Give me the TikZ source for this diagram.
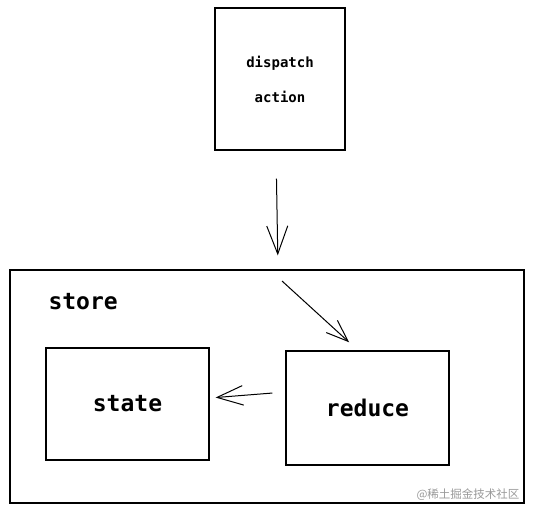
\documentclass[tikz,border=0pt]{standalone}
\usepackage{fontspec}
\setmonofont{DejaVu Sans Mono}
\newfontfamily\cjkfont{Noto Sans CJK SC}
\usetikzlibrary{arrows.meta,positioning}
\tikzset{
  sketchbox/.style={draw, line width=1.3pt, inner sep=0pt},
  boxlabel/.style={font=\ttfamily\bfseries\fontsize{23}{26}\selectfont},
  sketcharrow/.style={line width=1pt, -{Straight Barb[length=#1,width=0.75*#1,line width=1pt]}},
  sketcharrow/.default=24pt
}
\begin{document}
\begin{tikzpicture}[x=1pt, y=-1pt]
\useasboundingbox (0,0) rectangle (534,515);
% boxes
\node[sketchbox, minimum width=130pt, minimum height=142pt] (dispatch) at (280,79)
  {\parbox{120pt}{\centering\ttfamily\bfseries\fontsize{14}{35}\selectfont dispatch\\action}};
\node[sketchbox, minimum width=514pt, minimum height=233pt] (store) at (267,386.5) {};
\node[boxlabel, anchor=west] (storelabel) at (45,302) {store};
\node[sketchbox, minimum width=163pt, minimum height=112pt] (state) at (127.5,404) {};
\node[boxlabel] (statelabel) at (state.center) {state};
\node[sketchbox, minimum width=163pt, minimum height=114pt] (reduce) at (367.5,408) {};
\node[boxlabel] (reducelabel) at (reduce.center) {reduce};
% arrows
\coordinate (flowstart) at (282,281);
\draw[sketcharrow=28pt, shorten <=28pt, shorten >=14pt] (dispatch.south -| 276,0) -- (store.north -| 278,0);
\draw[sketcharrow=22pt, shorten >=12pt] (flowstart) -- (reduce.north -| 358,0);
\draw[sketcharrow=26pt, shorten <=13pt, shorten >=6pt] (reduce.west |- 0,392) -- (state.east |- 0,398);
% watermark
\node[anchor=east, font=\cjkfont\fontsize{11.5}{13}\selectfont, text=black!40] (mark) at (523,495) {@稀土掘金技术社区};
\end{tikzpicture}
\end{document}
